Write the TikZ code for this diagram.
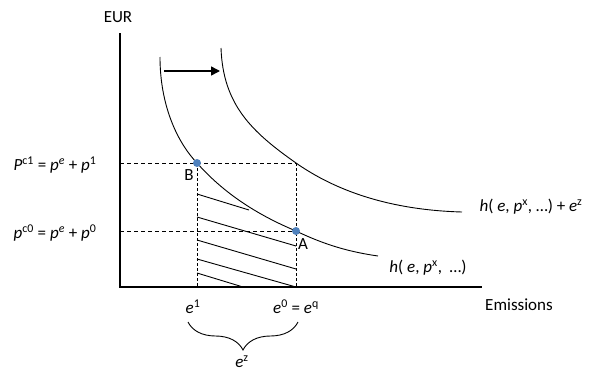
\documentclass[tikz,border=0pt]{standalone}
\usepackage{fontspec}
\setmainfont{Carlito}
\usepackage{tikz}
\usetikzlibrary{arrows.meta,decorations.pathreplacing}
\definecolor{dotblue}{RGB}{79,129,189}

\begin{document}
\begin{tikzpicture}[x=1pt,y=-1pt,
    lbl/.style={font=\fontsize{17}{20}\selectfont, inner sep=0pt},
    curve/.style={line width=0.9pt},
    hguide/.style={line width=0.8pt, dash pattern=on 4pt off 3pt},
    vguide/.style={line width=0.8pt, dash pattern=on 3pt off 2pt},
    dot/.style={circle, fill=dotblue, inner sep=0pt, minimum size=8pt}]
    \useasboundingbox (0,0) rectangle (589,375);
    % axes
    \coordinate (O) at (120,287);
    \coordinate (ytop) at (120,33);
    \coordinate (xend) at (482,287);
    \draw[line width=1.1pt] (ytop) -- (O) -- (xend);
    \node[lbl] (eur) at (118,17) {EUR};
    \node[lbl] (emis) at (519,305) {Emissions};
    % points on the curves and axes
    \coordinate (B) at (197,163);
    \coordinate (A) at (296,231);
    \coordinate (C) at (296,163);
    \coordinate (pc1) at (120,163);
    \coordinate (pc0) at (120,231);
    \coordinate (e1) at (197,287);
    \coordinate (e0) at (296,287);
    % hatching
    \foreach \ya/\xb/\yb in {194/249/210, 217/296/246, 240/296/269, 259/296/287, 273/243/287}
        \draw[curve] (197,\ya) -- (\xb,\yb);
    % guides
    \draw[hguide] (pc1) -- (C);
    \draw[hguide] (pc0) -- (A);
    \draw[vguide] (C) -- (e0);
    \draw[vguide] (B) -- (e1);
    % curves
    \draw[curve] (160,57) .. controls (160,105) and (177,142) .. (B)
                 .. controls (228,198) and (265,218) .. (A)
                 .. controls (325,245) and (350,252) .. (378,256);
    \draw[curve] (221,48) .. controls (223,105) and (252,132) .. (C)
                 .. controls (336,191) and (390,210) .. (462,212);
    % shift
    \coordinate (shiftL) at (164,71);
    \coordinate (shiftR) at (220,71);
    \draw[line width=1.5pt, -{Triangle[length=9pt,width=9pt]}] (shiftL) -- (shiftR);
    \node[dot] (Bdot) at (B) {};
    \node[dot] (Adot) at (A) {};
    \node[lbl] (Blbl) at (189,175) {B};
    \node[lbl] (Albl) at (303,244) {A};
    % labels
    \node[lbl] (pc1lbl) at (55,165) {\textit{P}\textsuperscript{c1} = \textit{p}\textsuperscript{\textit{e}} + \textit{p}\textsuperscript{1}};
    \node[lbl] (pc0lbl) at (55,233) {\textit{p}\textsuperscript{c0} = \textit{p}\textsuperscript{\textit{e}} + \textit{p}\textsuperscript{0}};
    \node[lbl] (hlbl) at (428,268) {\textit{h}( \textit{e}, \textit{p}\textsuperscript{x}, \ …)};
    \node[lbl] (hzlbl) at (531,207) {\textit{h}( \textit{e}, \textit{p}\textsuperscript{x}, …) + \textit{e}\textsuperscript{z}};
    \node[lbl] (e1lbl) at (193,307) {\textit{e}\textsuperscript{1}};
    \node[lbl] (e0lbl) at (296,307) {\textit{e}\textsuperscript{0} = \textit{e}\textsuperscript{q}};
    % brace
    \coordinate (brL) at (188,322);
    \coordinate (brR) at (298,322);
    \draw[curve, decorate, decoration={brace, mirror, amplitude=28pt}] (brL) -- (brR);
    \node[lbl] (ezlbl) at (242,362) {\textit{e}\textsuperscript{z}};
\end{tikzpicture}
\end{document}
